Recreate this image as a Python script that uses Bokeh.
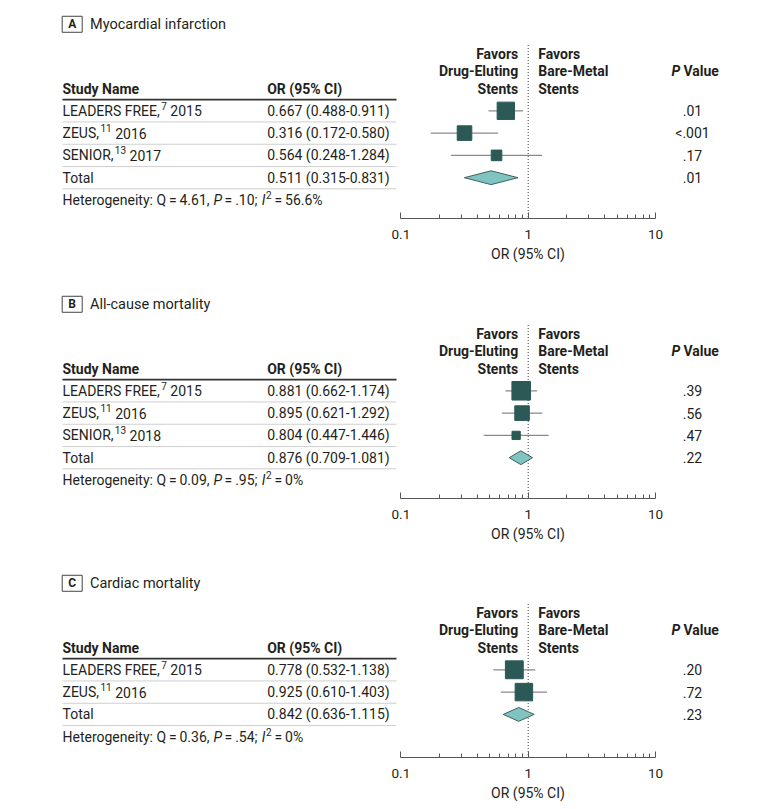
import math
from bokeh.plotting import figure
from bokeh.layouts import column
from bokeh.models import Range1d, FixedTicker, CustomJSTickFormatter, ColumnDataSource, Title
from bokeh.core.properties import value
from bokeh.embed import file_html
from bokeh.resources import INLINE

# ---------------- data ----------------
col_study = "Study Name"
col_or = "OR (95% CI)"
favors_left = ["Favors", "Drug-Eluting", "Stents"]
favors_right = ["Favors", "Bare-Metal", "Stents"]
axis_label = "OR (95% CI)"
axis_ticks = [0.1, 1, 10]
axis_minor = [0.2, 0.3, 0.4, 0.5, 0.6, 0.7, 0.8, 0.9, 2, 3, 4, 5, 6, 7, 8, 9]

a_letter = "A"
a_title = "Myocardial infarction"
a_names = ["LEADERS FREE,", "ZEUS,", "SENIOR,"]
a_refs = ["7", "11", "13"]
a_years = ["2015", "2016", "2017"]
a_or = [0.667, 0.316, 0.564]
a_lo = [0.488, 0.172, 0.248]
a_hi = [0.911, 0.580, 1.284]
a_p = [".01", "<.001", ".17"]
a_weight = [48, 34, 18]
a_total = [0.511, 0.315, 0.831]
a_total_p = ".01"
a_het = ["4.61", ".10", "56.6%"]

b_letter = "B"
b_title = "All-cause mortality"
b_names = ["LEADERS FREE,", "ZEUS,", "SENIOR,"]
b_refs = ["7", "11", "13"]
b_years = ["2015", "2016", "2018"]
b_or = [0.881, 0.895, 0.804]
b_lo = [0.662, 0.621, 0.447]
b_hi = [1.174, 1.292, 1.446]
b_p = [".39", ".56", ".47"]
b_weight = [55, 34, 11]
b_total = [0.876, 0.709, 1.081]
b_total_p = ".22"
b_het = ["0.09", ".95", "0%"]

c_letter = "C"
c_title = "Cardiac mortality"
c_names = ["LEADERS FREE,", "ZEUS,"]
c_refs = ["7", "11"]
c_years = ["2015", "2016"]
c_or = [0.778, 0.925]
c_lo = [0.532, 0.610]
c_hi = [1.138, 1.403]
c_p = [".20", ".72"]
c_weight = [51, 49]
c_total = [0.842, 0.636, 1.115]
c_total_p = ".23"
c_het = ["0.36", ".54", "0%"]

# ---------------- style ----------------
FONT = "Roboto"
TXT = "#231f20"
SQ = "#2b5956"
DIA = "#80c4c1"
CI = "#8a8a8a"
FS = 14
SUP = 10
W = 780
PX1 = 527.7      # page x of OR = 1
PPD = 127.3      # pixels per decade
PPR = 22.3       # pixels per row

# approximate Roboto Regular advance widths (em) for text layout
ADV = {"H": .697, "e": .528, "t": .319, "r": .338, "o": .557, "g": .547, "n": .538,
       "i": .237, "y": .473, ":": .236, " ": .248, "Q": .688, "=": .537, ".": .263,
       ",": .196, ";": .211, "%": .715, "\u2009": .2, "L": .538, "E": .568, "A": .652,
       "D": .657, "R": .616, "S": .594, "F": .553, "Z": .598, "U": .647, "N": .697,
       "I": .272, "O": .688, "P": .63}


def tw(s, size):
    return sum(ADV.get(ch, .5615) for ch in s) * size


def X(px):
    return 10 ** ((px - PX1) / PPD)


def T(p, x, y, text, size=FS, style="normal", align="left", color=TXT, yo=0, xo=0):
    p.text(x=[x], y=[y], text=[text], text_font=value(FONT), text_font_size=f"{size}px",
           text_font_style=style, text_align=align, text_baseline="middle",
           text_color=color, x_offset=xo, y_offset=yo)


def panel(letter, title, names, refs, years, ors, los, his, ps, weights, total, total_p,
          het, height, mb, header_px):
    n = len(names)
    frame_h = height - mb
    top = -header_px / PPR
    bottom = top + frame_h / PPR
    p = figure(width=W, height=height, x_axis_type="log",
               x_range=Range1d(X(0), X(W)), y_range=Range1d(bottom, top),
               toolbar_location=None, output_backend="svg",
               min_border_left=0, min_border_right=0, min_border_top=0,
               min_border_bottom=mb, y_axis_location=None, outline_line_color=None,
               background_fill_color="white", border_fill_color="white")
    p.grid.visible = False

    # panel title
    trow = -2.88
    p.rect(x=[X(71.7)], y=[trow], width=20, height=16, width_units="screen",
           height_units="screen", fill_color=None, line_color="#444", line_width=1)
    T(p, X(71.7), trow, letter, size=12, style="bold", align="center")
    T(p, X(89.5), trow, title, size=14.5)

    # table header
    T(p, X(62), 0, col_study, style="bold")
    T(p, X(266.7), 0, col_or, style="bold")
    for i, (l, r) in enumerate(zip(favors_left, favors_right)):
        off = (i - 2) * 17.3
        T(p, 1, 0, l, style="bold", align="right", xo=-10, yo=off)
        T(p, 1, 0, r, style="bold", align="left", xo=10, yo=off)
    T(p, X(671), -0.78, "P", style="bold italic")
    T(p, X(683), -0.78, "Value", style="bold")

    # rules
    p.segment(x0=[X(62)], y0=[0.5], x1=[X(396)], y1=[0.5], line_color="#333", line_width=1.6)
    rr = [k + 1.5 for k in range(n + 1)]
    p.segment(x0=[X(62)] * len(rr), y0=rr, x1=[X(396)] * len(rr), y1=rr,
              line_color="#cfcfcf", line_width=1)

    rows = list(range(1, n + 1))
    labels = [f"{o:.3f} ({a:.3f}-{b:.3f})" for o, a, b in zip(ors, los, his)]
    sup_x = [X(62 + tw(nm, FS) + 1.5) for nm in names]
    year_x = [X(62 + tw(nm, FS) + 1.5 + tw(rf, SUP) + 3.5) for nm, rf in zip(names, refs)]
    src = ColumnDataSource(dict(y=rows, name=names, ref=refs, year=years, sx=sup_x,
                                yx=year_x, ci=labels, p=ps, est=ors, lo=los, hi=his,
                                size=[2.5 * math.sqrt(w) for w in weights]))
    common = dict(text_font=value(FONT), text_font_size=f"{FS}px", text_baseline="middle",
                  text_color=TXT, source=src)
    p.text(x=X(62), y="y", text="name", text_align="left", **common)
    p.text(x="yx", y="y", text="year", text_align="left", **common)
    p.text(x="sx", y="y", text="ref", text_align="left", text_font=value(FONT),
           text_font_size=f"{SUP}px", text_baseline="middle", text_color=TXT,
           y_offset=-5, source=src)
    p.text(x=X(266.7), y="y", text="ci", text_align="left", **common)
    p.text(x=X(692), y="y", text="p", text_align="center", **common)

    trow_t = n + 1
    T(p, X(62), trow_t, "Total")
    T(p, X(266.7), trow_t, f"{total[0]:.3f} ({total[1]:.3f}-{total[2]:.3f})")
    T(p, X(692), trow_t, total_p, align="center")

    # heterogeneity line
    hr = n + 2
    s1 = f"Heterogeneity: Q\u2009=\u2009{het[0]},"
    s3 = f"\u2009=\u2009{het[1]};"
    x = 62
    T(p, X(x), hr, s1)
    x += tw(s1, FS) + tw(" ", FS) + 2
    T(p, X(x), hr, "P", style="italic")
    x += tw("P", FS) - 0.5
    T(p, X(x), hr, s3)
    x += tw(s3, FS) + tw(" ", FS) + 1
    T(p, X(x), hr, "I", style="italic")
    x += tw("I", FS) + 0.5
    T(p, X(x), hr, "2", size=SUP, yo=-5)
    x += tw("2", SUP)
    T(p, X(x), hr, f"\u2009=\u2009{het[2]}")

    # null line
    p.segment(x0=[1], y0=[-1.95], x1=[1], y1=[bottom], line_color="#444",
              line_width=1, line_dash="1 2")

    # CIs and squares
    p.segment(x0="lo", y0="y", x1="hi", y1="y", source=src, line_color=CI, line_width=1.3)
    p.scatter(x="est", y="y", size="size", marker="square", source=src,
              fill_color=SQ, line_color=SQ)

    # diamond
    h = 0.31
    p.patch(x=[total[1], total[0], total[2], total[0]],
            y=[trow_t, trow_t - h, trow_t, trow_t + h],
            fill_color=DIA, line_color="#3f5f5d", line_width=1)

    ax = p.xaxis[0]
    ax.ticker = FixedTicker(ticks=axis_ticks, minor_ticks=axis_minor)
    ax.formatter = CustomJSTickFormatter(code="return String(Math.round(tick*10)/10)")
    ax.bounds = (axis_ticks[0], axis_ticks[-1])
    ax.major_label_text_font = FONT
    ax.major_label_text_font_size = "13.5px"
    ax.major_label_text_color = TXT
    ax.major_label_standoff = 11
    ax.axis_line_color = "#555"
    ax.major_tick_line_color = "#555"
    ax.minor_tick_line_color = "#555"
    ax.major_tick_in = 6
    ax.major_tick_out = 0
    ax.minor_tick_in = 4
    ax.minor_tick_out = 0

    # axis title centred under the 0.1-10 scale (left padding shifts the centred box)
    shift = int(round(2 * (PX1 - W / 2)))
    p.add_layout(Title(text=axis_label, align="center",
                       padding=dict(left=shift, right=0, top=0, bottom=0),
                       text_font=FONT, text_font_size=f"{FS}px", text_font_style="normal",
                       text_color=TXT, standoff=4), "below")
    return p


pa = panel(a_letter, a_title, a_names, a_refs, a_years, a_or, a_lo, a_hi, a_p, a_weight,
           a_total, a_total_p, a_het, 279, 61, 88)
pb = panel(b_letter, b_title, b_names, b_refs, b_years, b_or, b_lo, b_hi, b_p, b_weight,
           b_total, b_total_p, b_het, 280, 61, 89)
pc = panel(c_letter, c_title, c_names, c_refs, c_years, c_or, c_lo, c_hi, c_p, c_weight,
           c_total, c_total_p, c_het, 250, 52, 88)

layout = column(pa, pb, pc, spacing=0)
open("out.html", "w").write(file_html(layout, INLINE))
